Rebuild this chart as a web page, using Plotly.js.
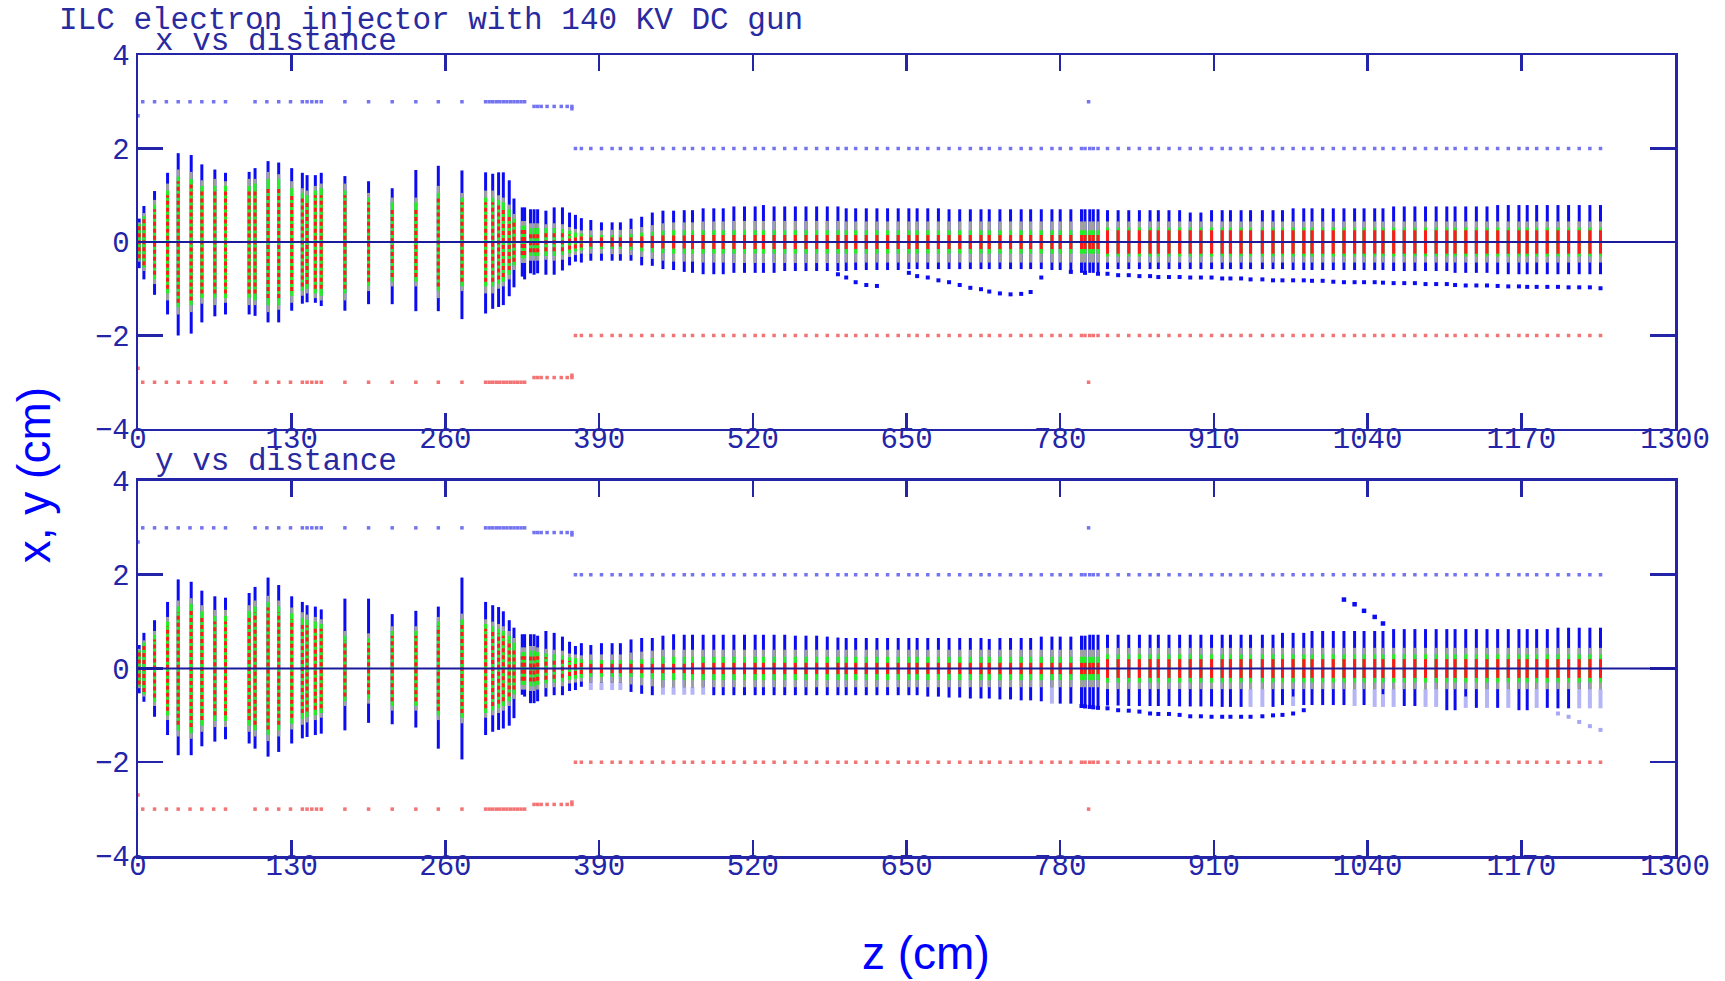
<!DOCTYPE html>
<html>
<head>
<meta charset="utf-8">
<script src="https://cdn.plot.ly/plotly-3.0.1.min.js"></script>
<style>html,body{margin:0;padding:0;background:#fff;}#chart{width:1725px;height:981px;}</style>
</head>
<body>
<div id="chart"></div>
<script>
// ---- bar positions along the beamline (cm) ----
const zPos = [1,5,14,25,34,45,54,65,74,94,99,110,119,130,139,143,150,155,175,195,215,235,254,274,294,300,305,309,314,318,325,327,332,335,338,345,352,359,365,370,375,
383,392,401,408,417,426,435,444,453,462,469,478,487,495,504,513,522,529,538,547,556,565,574,583,592,599,607,616,625,634,643,652,659,668,677,686,695,704,713,720,729,738,747,755,764,773,780,789,798,801,805,808,812,
820,829,838,847,856,863,872,881,890,899,908,917,924,933,941,951,960,968,977,986,993,1002,1011,1020,1029,1037,1046,1053,1062,1071,1080,1089,1098,1107,1114,1123,1132,1141,1150,1159,1168,1175,1183,1192,1201,1210,1219,1228,1237];

// ---- x vs distance: full extent and inner populations (cm) ----
const xHi = [0.5,0.77,1.09,1.48,1.9,1.86,1.66,1.55,1.48,1.5,1.58,1.73,1.7,1.58,1.48,1.43,1.43,1.48,1.41,1.3,1.15,1.54,1.63,1.53,1.49,1.46,1.49,1.49,1.32,0.93,0.74,0.74,0.7,0.7,0.7,0.67,0.74,0.74,0.63,0.58,0.51,
0.47,0.42,0.42,0.42,0.5,0.54,0.63,0.67,0.67,0.68,0.68,0.72,0.72,0.72,0.76,0.76,0.76,0.79,0.76,0.76,0.76,0.76,0.76,0.76,0.76,0.72,0.72,0.72,0.72,0.72,0.72,0.72,0.72,0.72,0.72,0.7,0.7,0.7,0.7,0.7,0.7,0.7,0.7,0.7,0.7,0.7,0.7,0.7,0.7,0.7,0.7,0.7,0.7,
0.68,0.68,0.68,0.68,0.68,0.68,0.68,0.68,0.63,0.63,0.68,0.68,0.68,0.68,0.68,0.68,0.68,0.68,0.72,0.72,0.72,0.72,0.72,0.72,0.72,0.72,0.72,0.72,0.76,0.76,0.76,0.76,0.76,0.76,0.76,0.76,0.76,0.76,0.79,0.79,0.79,0.79,0.79,0.79,0.79,0.79,0.79,0.79,0.79];
const xLo = [-0.56,-0.8,-1.13,-1.55,-2.0,-1.96,-1.72,-1.59,-1.55,-1.55,-1.58,-1.72,-1.72,-1.47,-1.32,-1.29,-1.3,-1.37,-1.47,-1.33,-1.33,-1.48,-1.48,-1.65,-1.53,-1.43,-1.39,-1.35,-1.16,-0.97,-0.74,-0.8,-0.67,-0.7,-0.67,-0.7,-0.7,-0.61,-0.5,-0.42,-0.44,
-0.4,-0.4,-0.4,-0.4,-0.4,-0.5,-0.51,-0.58,-0.6,-0.64,-0.66,-0.69,-0.69,-0.69,-0.66,-0.66,-0.66,-0.66,-0.66,-0.62,-0.62,-0.62,-0.62,-0.62,-0.62,-0.62,-0.6,-0.6,-0.6,-0.6,-0.6,-0.58,-0.58,-0.58,-0.58,-0.58,-0.58,-0.58,-0.58,-0.58,-0.58,-0.58,-0.58,-0.58,-0.58,-0.6,-0.6,-0.62,-0.66,-0.66,-0.66,-0.66,-0.66,
-0.58,-0.58,-0.58,-0.58,-0.58,-0.58,-0.58,-0.58,-0.58,-0.58,-0.58,-0.58,-0.58,-0.58,-0.58,-0.58,-0.58,-0.58,-0.6,-0.6,-0.6,-0.6,-0.6,-0.6,-0.6,-0.6,-0.6,-0.6,-0.62,-0.62,-0.62,-0.62,-0.62,-0.62,-0.66,-0.66,-0.66,-0.66,-0.69,-0.69,-0.69,-0.69,-0.69,-0.69,-0.69,-0.69,-0.69,-0.69,-0.69];
const xGray = [0.42,0.62,0.9,1.25,1.55,1.5,1.32,1.35,1.3,1.35,1.35,1.5,1.45,1.3,1.15,1.1,1.2,1.25,1.25,1.05,0.95,0.95,1.2,1.05,1.1,1.1,1.0,0.95,0.8,0.6,0.45,0.45,0.4,0.4,0.4,0.38,0.4,0.38,0.32,0.28,0.25,
0.25,0.25,0.26,0.26,0.28,0.32,0.36,0.4,0.42,0.42,0.42,0.44,0.44,0.44,0.45,0.45,0.45,0.45,0.45,0.45,0.45,0.45,0.45,0.45,0.45,0.44,0.44,0.44,0.44,0.44,0.44,0.44,0.44,0.44,0.44,0.44,0.44,0.44,0.44,0.44,0.44,0.44,0.44,0.44,0.44,0.44,0.44,0.44,0.44,0.44,0.44,0.44,0.44,
0.44,0.44,0.44,0.44,0.44,0.44,0.44,0.44,0.44,0.44,0.44,0.44,0.44,0.44,0.44,0.44,0.44,0.44,0.44,0.44,0.44,0.44,0.44,0.44,0.44,0.44,0.44,0.44,0.44,0.44,0.44,0.44,0.44,0.44,0.44,0.44,0.44,0.44,0.44,0.44,0.44,0.44,0.44,0.44,0.44,0.44,0.44,0.44,0.44];
const xGreen = [0.38,0.55,0.8,1.1,1.4,1.35,1.2,1.2,1.2,1.2,1.25,1.35,1.35,1.15,1.05,1.0,1.1,1.15,1.1,0.95,0.85,0.85,1.05,0.95,0.95,0.95,0.9,0.85,0.7,0.5,0.35,0.35,0.3,0.3,0.3,0.3,0.3,0.28,0.24,0.2,0.18,
0.15,0.15,0.15,0.15,0.17,0.2,0.22,0.24,0.25,0.25,0.25,0.25,0.25,0.25,0.25,0.25,0.25,0.25,0.25,0.25,0.25,0.25,0.25,0.25,0.25,0.25,0.25,0.25,0.25,0.25,0.25,0.25,0.25,0.25,0.25,0.25,0.25,0.25,0.25,0.25,0.25,0.25,0.25,0.25,0.25,0.25,0.25,0.25,0.25,0.25,0.25,0.25,0.25,
0.31,0.31,0.31,0.31,0.31,0.31,0.31,0.31,0.31,0.31,0.31,0.31,0.31,0.31,0.31,0.31,0.31,0.31,0.31,0.31,0.31,0.31,0.31,0.31,0.31,0.31,0.31,0.31,0.31,0.31,0.31,0.31,0.31,0.31,0.31,0.31,0.31,0.31,0.31,0.31,0.31,0.31,0.31,0.31,0.31,0.31,0.31,0.31,0.31];
const xRed = [0.35,0.5,0.7,1.0,1.3,1.25,1.1,1.1,1.1,1.1,1.1,1.2,1.2,1.05,0.95,0.9,1.0,1.0,1.0,0.85,0.75,0.75,0.95,0.85,0.85,0.85,0.8,0.75,0.6,0.42,0.28,0.28,0.22,0.22,0.22,0.2,0.2,0.2,0.16,0.14,0.12,
0.1,0.1,0.1,0.1,0.1,0.12,0.13,0.14,0.14,0.14,0.15,0.15,0.15,0.15,0.15,0.15,0.15,0.15,0.15,0.15,0.15,0.15,0.15,0.15,0.15,0.15,0.15,0.15,0.15,0.15,0.15,0.15,0.15,0.15,0.15,0.15,0.15,0.15,0.15,0.15,0.15,0.15,0.15,0.15,0.15,0.15,0.15,0.15,0.15,0.15,0.15,0.15,0.15,
0.25,0.25,0.25,0.25,0.25,0.25,0.25,0.25,0.25,0.25,0.25,0.25,0.25,0.25,0.25,0.25,0.25,0.25,0.25,0.25,0.25,0.25,0.25,0.25,0.25,0.25,0.25,0.25,0.25,0.25,0.25,0.25,0.25,0.25,0.25,0.25,0.25,0.25,0.25,0.25,0.25,0.25,0.25,0.25,0.25,0.25,0.25,0.25,0.25];

// ---- y vs distance ----
const yHi = [0.5,0.76,1.03,1.42,1.9,1.85,1.66,1.54,1.51,1.61,1.74,1.94,1.78,1.54,1.42,1.35,1.32,1.26,1.49,1.49,1.16,1.23,1.32,1.94,1.42,1.35,1.31,1.22,1.03,0.87,0.73,0.73,0.73,0.73,0.7,0.8,0.76,0.68,0.57,0.48,0.54,
0.5,0.54,0.54,0.54,0.62,0.65,0.65,0.7,0.73,0.72,0.72,0.72,0.72,0.72,0.72,0.72,0.72,0.72,0.72,0.72,0.7,0.7,0.7,0.68,0.66,0.65,0.65,0.65,0.65,0.65,0.65,0.65,0.65,0.65,0.65,0.65,0.65,0.65,0.65,0.63,0.65,0.65,0.65,0.65,0.68,0.68,0.68,0.68,0.7,0.7,0.72,0.72,0.72,
0.72,0.72,0.72,0.72,0.72,0.72,0.72,0.72,0.72,0.72,0.72,0.72,0.72,0.72,0.72,0.72,0.72,0.76,0.76,0.76,0.8,0.8,0.8,0.8,0.8,0.8,0.8,0.8,0.84,0.84,0.84,0.84,0.84,0.84,0.84,0.84,0.84,0.84,0.84,0.84,0.84,0.84,0.84,0.84,0.87,0.87,0.87,0.87,0.87];
const yLo = [-0.53,-0.71,-1.03,-1.42,-1.85,-1.85,-1.66,-1.56,-1.51,-1.6,-1.71,-1.88,-1.78,-1.6,-1.49,-1.46,-1.42,-1.39,-1.32,-1.16,-1.19,-1.26,-1.71,-1.94,-1.42,-1.35,-1.31,-1.28,-1.22,-1.06,-0.56,-0.6,-0.74,-0.74,-0.7,-0.6,-0.57,-0.57,-0.48,-0.46,-0.39,
-0.3,-0.3,-0.3,-0.3,-0.5,-0.54,-0.57,-0.4,-0.4,-0.4,-0.4,-0.4,-0.57,-0.57,-0.57,-0.57,-0.57,-0.57,-0.57,-0.57,-0.57,-0.57,-0.57,-0.57,-0.57,-0.57,-0.57,-0.57,-0.57,-0.57,-0.57,-0.57,-0.57,-0.6,-0.6,-0.62,-0.62,-0.64,-0.64,-0.64,-0.66,-0.66,-0.68,-0.68,-0.7,-0.4,-0.75,-0.75,-0.8,-0.8,-0.8,-0.8,-0.8,
-0.79,-0.79,-0.8,-0.8,-0.8,-0.8,-0.8,-0.81,-0.81,-0.81,-0.81,-0.82,-0.82,-0.82,-0.44,-0.44,-0.82,-0.78,-0.6,-0.78,-0.78,-0.78,-0.78,-0.78,-0.44,-0.78,-0.44,-0.55,-0.44,-0.8,-0.8,-0.44,-0.44,-0.89,-0.89,-0.6,-0.84,-0.44,-0.84,-0.44,-0.89,-0.89,-0.44,-0.84,-0.85,-0.85,-0.44,-0.44,-0.44];
const yGray = [0.42,0.6,0.8,1.1,1.45,1.5,1.35,1.25,1.25,1.35,1.45,1.55,1.45,1.3,1.2,1.15,1.1,1.05,0.8,0.75,0.9,0.9,1.1,1.17,1.05,1.0,0.95,0.9,0.8,0.65,0.45,0.45,0.48,0.48,0.45,0.42,0.4,0.38,0.32,0.3,0.28,
0.3,0.3,0.3,0.3,0.34,0.36,0.38,0.4,0.4,0.4,0.4,0.4,0.4,0.4,0.4,0.4,0.4,0.4,0.4,0.4,0.4,0.4,0.4,0.4,0.4,0.4,0.4,0.4,0.4,0.4,0.4,0.4,0.4,0.4,0.4,0.4,0.4,0.4,0.4,0.4,0.4,0.4,0.4,0.4,0.4,0.4,0.4,0.4,0.4,0.4,0.4,0.4,0.4,
0.44,0.44,0.44,0.44,0.44,0.44,0.44,0.44,0.44,0.44,0.44,0.44,0.44,0.44,0.44,0.44,0.44,0.44,0.44,0.44,0.44,0.44,0.44,0.44,0.44,0.44,0.44,0.44,0.44,0.44,0.44,0.44,0.44,0.44,0.44,0.44,0.44,0.44,0.44,0.44,0.44,0.44,0.44,0.44,0.44,0.44,0.44,0.44,0.44];
const yGreen = [0.38,0.55,0.72,1.0,1.32,1.38,1.22,1.12,1.12,1.22,1.32,1.42,1.32,1.18,1.08,1.04,1.0,0.95,0.7,0.65,0.8,0.8,1.0,1.05,0.95,0.9,0.85,0.8,0.7,0.55,0.35,0.35,0.38,0.38,0.35,0.32,0.3,0.28,0.24,0.22,0.2,
0.18,0.18,0.18,0.18,0.18,0.2,0.22,0.25,0.25,0.25,0.25,0.25,0.25,0.25,0.25,0.25,0.25,0.25,0.25,0.25,0.25,0.25,0.25,0.25,0.25,0.25,0.25,0.25,0.25,0.25,0.25,0.25,0.25,0.25,0.25,0.25,0.25,0.25,0.25,0.25,0.25,0.25,0.25,0.25,0.25,0.25,0.25,0.25,0.25,0.25,0.25,0.25,0.25,
0.3,0.3,0.3,0.3,0.3,0.3,0.3,0.3,0.3,0.3,0.3,0.3,0.3,0.3,0.3,0.3,0.3,0.3,0.3,0.3,0.3,0.3,0.3,0.3,0.3,0.3,0.3,0.3,0.3,0.3,0.3,0.3,0.3,0.3,0.3,0.3,0.3,0.3,0.3,0.3,0.3,0.3,0.3,0.3,0.3,0.3,0.3,0.3,0.3];
const yRed = [0.34,0.5,0.62,0.9,1.2,1.25,1.1,1.0,1.0,1.1,1.2,1.3,1.2,1.05,0.95,0.92,0.88,0.85,0.6,0.55,0.7,0.7,0.9,0.95,0.85,0.8,0.75,0.7,0.6,0.45,0.26,0.26,0.28,0.28,0.26,0.24,0.22,0.2,0.16,0.14,0.12,
0.1,0.1,0.1,0.1,0.1,0.1,0.1,0.1,0.1,0.1,0.12,0.12,0.12,0.12,0.12,0.12,0.12,0.12,0.12,0.12,0.12,0.12,0.12,0.12,0.12,0.12,0.12,0.12,0.12,0.12,0.12,0.12,0.12,0.12,0.12,0.12,0.12,0.12,0.12,0.12,0.12,0.12,0.12,0.12,0.12,0.12,0.12,0.12,0.12,0.12,0.12,0.12,0.12,
0.2,0.2,0.2,0.2,0.2,0.2,0.2,0.2,0.2,0.2,0.2,0.2,0.2,0.2,0.2,0.2,0.2,0.2,0.2,0.2,0.2,0.2,0.2,0.2,0.2,0.2,0.2,0.2,0.2,0.2,0.2,0.2,0.2,0.2,0.2,0.2,0.2,0.2,0.2,0.2,0.2,0.2,0.2,0.2,0.2,0.2,0.2,0.2,0.2];

// faint (light blue) lower tails in the y plot
const faintZ  = [383,392,401,408,444,453,462,469,478,773,941,951,977,1029,1046,1053,1062,1089,1098,1123,1141,1159,1183,1219,1228,1237];
const faintHi = [-0.3,-0.3,-0.3,-0.3,-0.4,-0.4,-0.4,-0.4,-0.4,-0.4,-0.44,-0.44,-0.6,-0.44,-0.44,-0.55,-0.44,-0.44,-0.44,-0.6,-0.44,-0.44,-0.44,-0.44,-0.44,-0.44];
const faintLo = [-0.46,-0.46,-0.46,-0.46,-0.56,-0.56,-0.56,-0.56,-0.56,-0.75,-0.82,-0.82,-0.8,-0.8,-0.82,-0.82,-0.82,-0.82,-0.82,-0.84,-0.84,-0.84,-0.84,-0.85,-0.85,-0.85];

// ---- aperture (pipe radius) markers ----
const apZ = [0,4,14,24,34,44,54,64,74,99,109,119,129,139,143,147,151,155,175,195,215,235,254,274,294,297,300,303,306,309,312,315,318,321,324,327,335,338,341,346,352,358,363,367,367,804];
const apR = [2.7,3,3,3,3,3,3,3,3,3,3,3,3,3,3,3,3,3,3,3,3,3,3,3,3,3,3,3,3,3,3,3,3,3,3,3,2.9,2.9,2.9,2.9,2.9,2.9,2.9,2.9,2.85,3];
const pipeStart = 370;   // from here the pipe radius is 2 cm at every element
const pipeR2 = 2;

// ---- stray particle tracks ----
const xTrailZ = [592,599,607,616,625,652,659,668,677,686,695,704,713,720,729,738,747,755,764,789,801,812,820,829,838,847,856,863,872,881,890,899,908,917,924,933,941,951,960,968,977,986,993,1002,1011,1020,1029,1037,1046,1053,1062,1071,1080,1089,1098,1107,1114,1123,1132,1141,1150,1159,1168,1175,1183,1192,1201,1210,1219,1228,1237];
const xTrailV = [-0.69,-0.76,-0.86,-0.92,-0.94,-0.66,-0.73,-0.76,-0.82,-0.86,-0.92,-0.98,-1.01,-1.06,-1.1,-1.12,-1.11,-1.07,-0.76,-0.64,-0.66,-0.68,-0.68,-0.71,-0.71,-0.73,-0.73,-0.75,-0.75,-0.75,-0.76,-0.76,-0.76,-0.78,-0.78,-0.78,-0.8,-0.8,-0.82,-0.82,-0.82,-0.82,-0.83,-0.83,-0.85,-0.86,-0.86,-0.86,-0.86,-0.87,-0.88,-0.88,-0.88,-0.9,-0.9,-0.9,-0.92,-0.93,-0.93,-0.93,-0.94,-0.95,-0.95,-0.96,-0.96,-0.96,-0.96,-0.97,-0.97,-0.97,-0.99];
const yTrailZ = [798,801,805,808,812,820,829,838,847,856,863,872,881,890,899,908,917,924,933,941,951,960,968,977,986];
const yTrailV = [-0.8,-0.81,-0.82,-0.83,-0.84,-0.85,-0.89,-0.9,-0.92,-0.96,-0.97,-0.97,-0.99,-1.02,-1.02,-1.03,-1.03,-1.03,-1.03,-1.03,-1.02,-1.0,-0.99,-0.96,-0.89];
const yRiseZ = [1020,1029,1037,1046,1053];
const yRiseV = [1.47,1.37,1.23,1.1,0.96];
const yFadeZ = [1201,1210,1219,1228,1237];
const yFadeV = [-0.96,-1.03,-1.14,-1.23,-1.31];

// ---- axes ----
const zTicks = [0,130,260,390,520,650,780,910,1040,1170,1300];
const vTicks = [-4,-2,0,2,4];
const vTickText = ['\u22124','\u22122','0','2','4'];

// ---------------------------------------------------------
const NAVY = '#2424a8';
const earlyEnd = 380;

function segs(lo, hi, keep) {
  const x = [], y = [];
  for (let i = 0; i < zPos.length; i++) {
    if (keep && !keep(i)) continue;
    const a = lo[i], b = hi[i];
    if (a == null || b == null) continue;
    x.push(zPos[i], zPos[i], null);
    y.push(a, b, null);
  }
  return {x, y};
}
function sym(arr) { return {lo: arr.map(v => -v), hi: arr}; }
function lineTrace(d, color, width, xa, ya, dash) {
  return {type: 'scatter', mode: 'lines', x: d.x, y: d.y, xaxis: xa, yaxis: ya,
    line: {color: color, width: width, dash: dash || 'solid'}, hoverinfo: 'skip', showlegend: false};
}
function dotTrace(xs, ys, color, size, xa, ya) {
  return {type: 'scatter', mode: 'markers', x: xs, y: ys, xaxis: xa, yaxis: ya,
    marker: {color: color, size: size, symbol: 'square', line: {width: 0}}, hoverinfo: 'skip', showlegend: false};
}

// aperture lists (shared by both panels)
const apAllZ = apZ.slice(), apAllR = apR.slice();
zPos.forEach(z => { if (z >= pipeStart) { apAllZ.push(z); apAllR.push(pipeR2); } });

function panel(hi, lo, gray, green, red, xa, ya) {
  const t = [];
  t.push(lineTrace(segs(lo, hi), '#0c0cf2', 3, xa, ya));
  const g = sym(gray), gr = sym(green), r = sym(red);
  t.push(lineTrace(segs(g.lo, g.hi), '#a0a0a0', 3, xa, ya));
  t.push(lineTrace(segs(gr.lo, gr.hi), '#22f022', 3, xa, ya));
  t.push(lineTrace(segs(r.lo, r.hi, i => zPos[i] < earlyEnd), '#ff1a1a', 3, xa, ya, '4px,3px'));
  t.push(lineTrace(segs(r.lo, r.hi, i => zPos[i] >= earlyEnd), '#ff1a1a', 3, xa, ya));
  t.push(dotTrace(apAllZ, apAllR, '#7474f0', 3.5, xa, ya));
  t.push(dotTrace(apAllZ, apAllR.map(v => -v), '#f27474', 3.5, xa, ya));
  return t;
}

const traces = [];
traces.push(...panel(xHi, xLo, xGray, xGreen, xRed, 'x', 'y'));
traces.push(dotTrace(xTrailZ, xTrailV, '#0c0cf2', 4, 'x', 'y'));

// faint tails first in the lower panel
(function(){
  const x = [], y = [];
  for (let i = 0; i < faintZ.length; i++) { x.push(faintZ[i], faintZ[i], null); y.push(faintLo[i], faintHi[i], null); }
  traces.push(lineTrace({x, y}, '#b6b6f6', 4, 'x2', 'y2'));
})();
traces.push(...panel(yHi, yLo, yGray, yGreen, yRed, 'x2', 'y2'));
traces.push(dotTrace(yTrailZ, yTrailV, '#0c0cf2', 4, 'x2', 'y2'));
traces.push(dotTrace(yRiseZ, yRiseV, '#0c0cf2', 4.5, 'x2', 'y2'));
traces.push(dotTrace(yFadeZ, yFadeV, '#a8a8f2', 4, 'x2', 'y2'));

const tickFont = {family: 'Liberation Mono, Courier New, monospace', size: 29, color: NAVY};
function xAxis(anchor) {
  return {anchor: anchor, domain: [0, 1], range: [0, 1300], tickvals: zTicks, ticktext: zTicks.map(String),
    ticks: 'inside', ticklen: 16, tickwidth: 2.5, tickcolor: NAVY, showline: true, linecolor: NAVY, linewidth: 2.5,
    mirror: 'ticks', showgrid: false, zeroline: false, tickfont: tickFont, ticklabelstandoff: -18, fixedrange: true};
}
function yAxis(anchor, dom) {
  return {anchor: anchor, domain: dom, range: [-4, 4], tickvals: vTicks, ticktext: vTickText,
    ticks: 'inside', ticklen: 25, tickwidth: 2.5, tickcolor: NAVY, showline: true, linecolor: NAVY, linewidth: 2.5,
    mirror: 'ticks', showgrid: false, zeroline: false, tickfont: tickFont, fixedrange: true};
}

const monoT = {family: 'Liberation Mono, Courier New, monospace', size: 31, color: '#2a2aa0'};
const sansT = {family: 'Liberation Sans, Arial, sans-serif', size: 46, color: '#0000ff'};

const layout = {
  width: 1725, height: 981,
  margin: {l: 138, r: 50, t: 55, b: 125, pad: 0},
  paper_bgcolor: '#ffffff', plot_bgcolor: '#ffffff',
  showlegend: false,
  xaxis: xAxis('y'), yaxis: yAxis('x', [0.5331, 1]),
  xaxis2: xAxis('y2'), yaxis2: yAxis('x2', [0, 0.4682]),
  shapes: [
    {type: 'line', xref: 'x domain', yref: 'y', x0: 0, x1: 1, y0: 0, y1: 0, layer: 'above', line: {color: '#1a1a9a', width: 2}},
    {type: 'line', xref: 'x2 domain', yref: 'y2', x0: 0, x1: 1, y0: 0, y1: 0, layer: 'above', line: {color: '#1a1a9a', width: 2}}
  ],
  annotations: [
    {text: 'ILC electron injector with 140 KV DC gun', xref: 'paper', yref: 'paper', x: -0.0527, y: 1.0425, xanchor: 'left', yanchor: 'middle', showarrow: false, font: monoT},
    {text: 'x vs distance', xref: 'paper', yref: 'paper', x: 0.0098, y: 1.0168, xanchor: 'left', yanchor: 'middle', showarrow: false, font: monoT},
    {text: 'y vs distance', xref: 'paper', yref: 'paper', x: 0.0098, y: 0.4919, xanchor: 'left', yanchor: 'middle', showarrow: false, font: monoT},
    {text: 'x, y (cm)', xref: 'paper', yref: 'paper', x: -0.0675, y: 0.4757, xanchor: 'center', yanchor: 'middle', textangle: -90, showarrow: false, font: sansT},
    {text: 'z (cm)', xref: 'paper', yref: 'paper', x: 0.5127, y: -0.1215, xanchor: 'center', yanchor: 'middle', showarrow: false, font: sansT}
  ]
};

Plotly.newPlot('chart', traces, layout, {displayModeBar: false, staticPlot: true});
</script>
</body>
</html>
